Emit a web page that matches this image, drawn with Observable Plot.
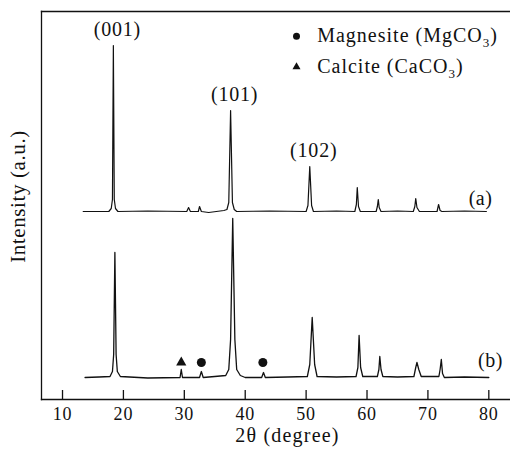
<!DOCTYPE html>
<html><head><meta charset="utf-8">
<script src="https://cdn.jsdelivr.net/npm/d3@7"></script>
<script src="https://cdn.jsdelivr.net/npm/@observablehq/plot@0.6"></script>
<style>body{margin:0;background:#fff} svg{display:block} svg text{font-family:"Liberation Serif","Times New Roman",serif}</style>
</head><body><div id="chart"></div>
<script>
// Trace (a): 2θ (degree) and intensity (a.u.)
const aTheta = [13.4,17.6,18.0,18.2,18.35,18.5,18.7,19.1,24,30.4,30.7,31.0,32.3,32.5,32.8,34,36.5,37.0,37.3,37.6,37.9,38.2,38.6,44,50.0,50.3,50.6,50.9,51.2,55,58.0,58.25,58.4,58.6,58.9,61.5,61.7,61.85,62.0,62.3,65,67.6,67.85,68.0,68.2,68.6,71.5,71.75,72.0,72.3,76,79.6];
const aInt   = [188,188,191,200,354,200,191,188,188.5,188,192,188,188,193,188,187,189,190,197,289,197,190,188,188.5,188,194,233,194,188,188.5,188,195,212,193,188,188,193,200,192,188,188.5,188,193,201,192,188,188,195,189,188,188.5,188];
// Trace (b)
const bTheta = [13.7,16,17.8,18.2,18.4,18.6,18.8,19.0,19.5,24,29.3,29.5,29.7,32.5,32.8,33.1,35,36.8,37.3,37.6,37.95,38.3,38.6,39.2,40,42.7,43.0,43.3,47,50.2,50.6,51.0,51.4,51.8,55,58.2,58.5,58.7,58.95,59.3,61.7,61.95,62.1,62.3,62.6,65,67.7,68.0,68.2,68.5,68.9,71.8,72.0,72.2,72.4,72.7,76,80.0];
const bInt   = [22,22.5,23,28,45,147,45,28,23,21.5,22,30,22,22,28,22,23,24,30,60,181,60,30,24,22,22,27,22,22.5,23,35,82,35,23,22.5,23,32,64,32,23,23,30,43,30,23,22.5,23,32,37,30,23,23,30,40,26,22,22.5,22];
// Phase markers on trace (b)
const magnesiteTheta = [32.8, 42.9];
const calciteTheta = [29.5];
const markerInt = 37;
// Peak labels on trace (a)
const peakLabels = ["(001)", "(101)", "(102)"];
const peakTheta = [18.35, 37.6, 50.6];
const peakInt = [354, 289, 233];
// Axis ticks
const xTicks = [10, 20, 30, 40, 50, 60, 70, 80];
const legendLabels = ["Magnesite (MgCO3)", "Calcite (CaCO3)"];

const traceA = aTheta.map((t, i) => ({t, v: aInt[i]}));
const traceB = bTheta.map((t, i) => ({t, v: bInt[i]}));
const peaks = peakLabels.map((l, i) => ({l, t: peakTheta[i], v: peakInt[i]}));
const font = "Liberation Serif";
const ink = "#111";
const txt = {fontFamily: font, fill: ink};

const chart = Plot.plot({
  width: 510, height: 454,
  marginLeft: 41, marginRight: 0, marginTop: 11, marginBottom: 55,
  style: {fontFamily: font, color: ink, background: "#fff"},
  x: {domain: [6.55, 83.56], axis: null},
  y: {domain: [0, 388], axis: null},
  marks: [
    Plot.frame({anchor: "left", stroke: ink, strokeWidth: 1.3}),
    Plot.frame({anchor: "top", stroke: ink, strokeWidth: 1.3}),
    Plot.frame({anchor: "bottom", stroke: ink, strokeWidth: 1.3}),
    Plot.tickX(xTicks, {x: d => d, insetTop: 379, stroke: ink, strokeWidth: 1.3}),
    Plot.axisX(xTicks, {tickSize: 0, tickPadding: 8, fontSize: 18, label: null, ...txt}),
    Plot.line(traceA, {x: "t", y: "v", stroke: ink, strokeWidth: 1.2}),
    Plot.line(traceB, {x: "t", y: "v", stroke: ink, strokeWidth: 1.3}),
    Plot.dot(magnesiteTheta, {x: d => d, y: () => markerInt, r: 4.5, fill: ink, symbol: "circle"}),
    Plot.dot(calciteTheta, {x: d => d, y: () => markerInt, r: 3.8, fill: ink, symbol: "triangle"}),
    Plot.text(peaks, {x: "t", y: "v", text: "l", dx: 4, dy: -16, fontSize: 20, ...txt}),
    Plot.text(["(a)"], {x: () => aTheta[aTheta.length-1], y: () => aInt[aInt.length-1], textAnchor: "end", dx: 6, dy: -13, fontSize: 20, ...txt}),
    Plot.text(["(b)"], {x: () => bTheta[bTheta.length-1], y: () => bInt[bInt.length-1], textAnchor: "end", dx: 14, dy: -17, fontSize: 20, ...txt}),
    Plot.dot([0], {frameAnchor: "top-left", dx: 255, dy: 24.7, r: 3.5, fill: ink, symbol: "circle"}),
    Plot.dot([0], {frameAnchor: "top-left", dx: 255, dy: 55.5, r: 3, fill: ink, symbol: "triangle"}),
    Plot.text([legendLabels[0]], {frameAnchor: "top-left", dx: 275.7, dy: 24, textAnchor: "start", lineAnchor: "middle", fontSize: 20, ...txt}),
    Plot.text([legendLabels[1]], {frameAnchor: "top-left", dx: 275.7, dy: 55, textAnchor: "start", lineAnchor: "middle", fontSize: 20, ...txt}),
    Plot.text(["Intensity (a.u.)"], {frameAnchor: "left", rotate: -90, textAnchor: "middle", lineAnchor: "middle", dx: -23, dy: -9, fontSize: 21, ...txt}),
    Plot.text(["2θ (degree)"], {frameAnchor: "bottom", textAnchor: "middle", lineAnchor: "middle", dx: 11.5, dy: 36, fontSize: 20, ...txt})
  ]
});
document.getElementById("chart").appendChild(chart);

const spacing = {"(001)": 0.8, "(101)": 0.8, "(102)": 0.8, "(a)": 0.5, "(b)": 0.5,
  "Intensity (a.u.)": 0.6, "2θ (degree)": 1.2};
d3.select(chart).selectAll("text").each(function() {
  const t = this.textContent;
  const sel = d3.select(this);
  if (spacing[t] != null) sel.style("letter-spacing", spacing[t] + "px");
  if (/^\d+$/.test(t)) sel.style("letter-spacing", "0.8px");
  // render the "3" of CO3 as a subscript
  const m = t.match(/^(.*CO)3(\))$/);
  if (!m) return;
  sel.style("letter-spacing", "1px");
  sel.text(null);
  sel.append("tspan").text(m[1]);
  sel.append("tspan").attr("dy", 5).attr("font-size", 13).text("3");
  sel.append("tspan").attr("dy", -5).text(m[2]);
});
</script>
</body></html>
